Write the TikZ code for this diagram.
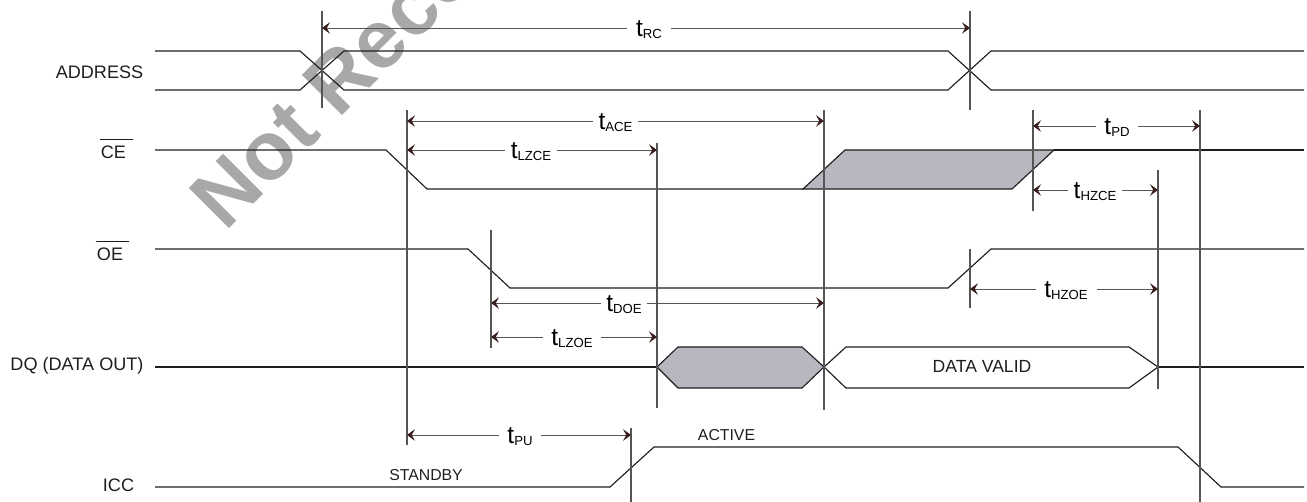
\documentclass[tikz,border=0pt]{standalone}
\usepackage{fontspec}
\setmainfont{Liberation Sans}
\usetikzlibrary{arrows.meta}

\definecolor{wave}{HTML}{1E1E1E}
\definecolor{mark}{HTML}{555555}
\definecolor{tip}{HTML}{3A1E1E}
\definecolor{shade}{HTML}{B7B7BF}
\definecolor{stampgray}{HTML}{A8A8A8}

\newcommand{\tname}[1]{{\fontsize{14}{14}\selectfont t}\raisebox{-0.6pt}{\fontsize{7.5}{8}\selectfont #1}}

\tikzset{
  wave/.style={draw=wave, line width=0.65pt},
  marker/.style={draw=mark, line width=0.6pt},
  dim/.style={draw=mark, line width=0.5pt, >={Stealth[length=4.5pt,width=6.5pt,inset=1.8pt,color=tip]}, <->},
  tlab/.style={fill=white, inner xsep=3pt, inner ysep=1pt, anchor=base},
  sig/.style={font=\fontsize{10.3}{12}\selectfont, text=wave, anchor=base, inner sep=0pt},
  state/.style={font=\fontsize{9}{11}\selectfont, text=wave, anchor=base, inner sep=0pt},
  stamp/.style={font=\fontsize{47}{50}\selectfont\bfseries, text=stampgray, inner sep=0pt}
}

\begin{document}
\begin{tikzpicture}[x=0.02cm, y=-0.02cm]
\useasboundingbox (0,0) rectangle (1307,502);

% watermark
\begin{scope}
\clip (0,0) rectangle (1307,502);
\node [stamp, anchor=base west, rotate=45] (stamp) at (225,233) {Not Recommended};
\end{scope}

% signal names
\node [sig] (address) at (99.5,79) {ADDRESS};
\node [sig] (ce) at (113.5,159) {CE};
\draw [wave, line width=0.5pt] ([shift={(-0.5pt,4pt)}]ce.north west) -- ([shift={(3.7pt,4pt)}]ce.north east);
\node [sig] (oe) at (110,261) {OE};
\draw [wave, line width=0.5pt] ([shift={(-0.5pt,4pt)}]oe.north west) -- ([shift={(3.4pt,4pt)}]oe.north east);
\node [sig] (dq) at (77,371) {DQ (DATA OUT)};
\node [sig] (icc) at (118.5,492) {ICC};

% ADDRESS
\draw [wave] (155,51) -- (300,51) -- (344,90) -- (948,90) -- (991,51) -- (1304,51);
\draw [wave] (155,90) -- (300,90) -- (344,51) -- (948,51) -- (991,90) -- (1304,90);

% CE
\draw [wave] (155,150) -- (386,150) -- (427,189) -- (803,189);
\draw [wave, fill=shade] (803,189) -- (845,150) -- (1054,150) -- (1012,189) -- cycle;
\draw [wave] (1054,150) -- (1304,150);

% OE
\draw [wave] (155,249) -- (468,249) -- (510,288) -- (948,288) -- (991,249) -- (1304,249);

% DQ
\draw [wave] (155,367) -- (657,367);
\draw [wave, fill=shade] (657,367) -- (678,347) -- (802,347) -- (824,367) -- (802,388) -- (678,388) -- cycle;
\draw [wave] (824,367) -- (846,347) -- (1129,347) -- (1158,367) -- (1129,388) -- (846,388) -- cycle;
\draw [wave] (1158,367) -- (1304,367);
\node [sig, font=\fontsize{10}{12}\selectfont] (valid) at (982,373) {DATA VALID};

% ICC
\draw [wave] (155,487) -- (610,487) -- (654,447) -- (1178,447) -- (1221,487) -- (1304,487);
\node [state] (standby) at (426,480) {STANDBY};
\node [state] (active) at (726.5,441) {ACTIVE};

% time marks
\draw [marker] (322,11) -- (322,108);
\draw [marker] (970,11) -- (970,110);
\draw [marker] (407,110) -- (407,445);
\draw [marker] (657,143) -- (657,408);
\draw [marker] (824,110) -- (824,410);
\draw [marker] (1033,110) -- (1033,211);
\draw [marker] (1158,170) -- (1158,389);
\draw [marker] (1200,110) -- (1200,502);
\draw [marker] (491,230) -- (491,348);
\draw [marker] (970,249) -- (970,308);
\draw [marker] (631,428) -- (631,502);

% timing arrows
\draw [dim] (322,28) -- (970,28);
\node [tlab, inner xsep=5pt] (trc) at (649,37) {\tname{RC}};

\draw [dim] (407,121) -- (824,121);
\node [tlab] (tace) at (615.5,130) {\tname{ACE}};

\draw [dim] (407,150) -- (657,150);
\node [tlab] (tlzce) at (531,159) {\tname{LZCE}};

\draw [dim] (1033,126) -- (1200,126);
\node [tlab, inner xsep=5pt] (tpd) at (1117,135) {\tname{PD}};

\draw [dim] (1033,190) -- (1158,190);
\node [tlab] (thzce) at (1095,199) {\tname{HZCE}};

\draw [dim] (970,289) -- (1158,289);
\node [tlab, inner xsep=5pt] (thzoe) at (1066,298) {\tname{HZOE}};

\draw [dim] (491,303) -- (824,303);
\node [tlab] (tdoe) at (624,312) {\tname{DOE}};

\draw [dim] (491,337) -- (657,337);
\node [tlab, inner xsep=5pt] (tlzoe) at (572,346) {\tname{LZOE}};

\draw [dim] (407,435) -- (631,435);
\node [tlab, inner xsep=5pt] (tpu) at (520,444) {\tname{PU}};

\end{tikzpicture}
\end{document}
